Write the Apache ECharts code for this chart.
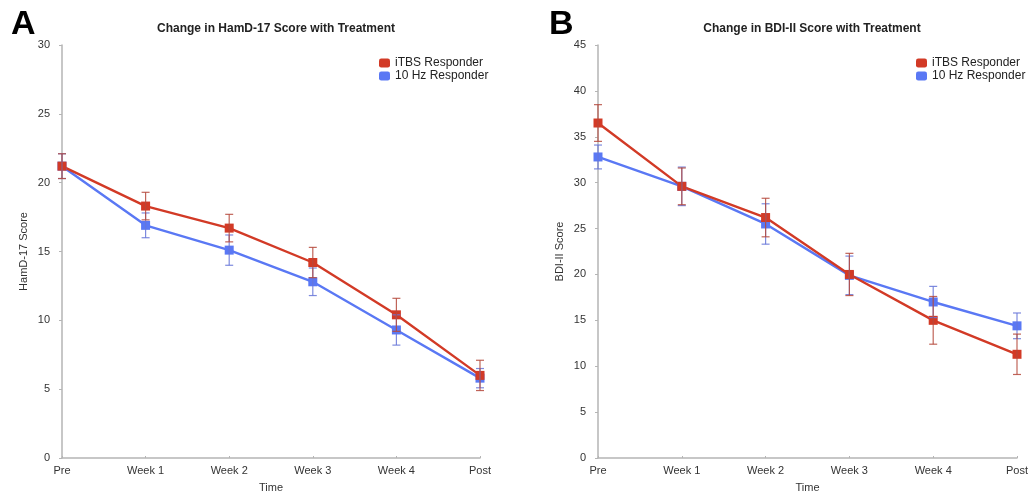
<!DOCTYPE html>
<html>
<head>
<meta charset="utf-8">
<script src="https://cdn.jsdelivr.net/npm/echarts@6/dist/echarts.min.js"></script>
<style>
  html, body { margin: 0; padding: 0; background: #fff; }
  #main { width: 1029px; height: 492px; }
</style>
</head>
<body>
<div id="main"></div>
<script>
// time points
let times = ['Pre', 'Week 1', 'Week 2', 'Week 3', 'Week 4', 'Post'];

// panel A - HamD-17 (mean, sem)
let hamdItbs = [21.2, 18.3, 16.7, 14.2, 10.4, 6.0];
let hamdItbsErr = [0.9, 1.0, 1.0, 1.1, 1.2, 1.1];
let hamd10hz = [21.2, 16.9, 15.1, 12.8, 9.3, 5.8];
let hamd10hzErr = [0.9, 0.9, 1.1, 1.0, 1.1, 0.7];

// panel B - BDI-II
let bdiItbs = [36.5, 29.6, 26.2, 20.0, 15.0, 11.3];
let bdiItbsErr = [2.0, 2.0, 2.1, 2.3, 2.6, 2.2];
let bdi10hz = [32.8, 29.6, 25.5, 19.9, 17.0, 14.4];
let bdi10hzErr = [1.3, 2.1, 2.2, 2.1, 1.7, 1.4];

let red = '#d23a26';
let blue = '#5a78f4';
let redErr = '#b5493c';
let blueErr = '#6676d8';
let font = '"Liberation Sans", Arial, sans-serif';

let chart = echarts.init(document.getElementById('main'));

function errData(mean, err) {
  return mean.map(function (m, i) { return [i, m - err[i], m + err[i]]; });
}

function errSeries(name, idx, mean, err, color) {
  return {
    type: 'custom',
    name: name,
    xAxisIndex: idx,
    yAxisIndex: idx,
    z: 5,
    silent: true,
    renderItem: function (params, api) {
      let x = api.value(0);
      let lo = api.coord([x, api.value(1)]);
      let hi = api.coord([x, api.value(2)]);
      let cap = 4;
      let st = { stroke: color, lineWidth: 1.2, opacity: 0.85 };
      return {
        type: 'group',
        children: [
          { type: 'line', shape: { x1: hi[0], y1: hi[1], x2: lo[0], y2: lo[1] }, style: st },
          { type: 'line', shape: { x1: hi[0] - cap, y1: hi[1], x2: hi[0] + cap, y2: hi[1] }, style: st },
          { type: 'line', shape: { x1: lo[0] - cap, y1: lo[1], x2: lo[0] + cap, y2: lo[1] }, style: st }
        ]
      };
    },
    data: errData(mean, err)
  };
}

function lineSeries(name, idx, data, color) {
  return {
    type: 'line',
    name: name,
    xAxisIndex: idx,
    yAxisIndex: idx,
    data: data,
    symbol: 'rect',
    symbolSize: 9,
    z: 3,
    color: color,
    lineStyle: { width: 2.4, color: color },
    itemStyle: { color: color }
  };
}

function xAx(idx) {
  return {
    type: 'category',
    gridIndex: idx,
    data: times,
    boundaryGap: false,
    name: 'Time',
    nameLocation: 'middle',
    nameGap: 24,
    nameTextStyle: { fontFamily: font, fontSize: 11, color: '#333' },
    axisLine: { lineStyle: { color: '#b5b5b5', width: 1.5 } },
    axisTick: { alignWithLabel: true, length: 2, inside: true, lineStyle: { color: '#b5b5b5' } },
    axisLabel: { fontFamily: font, fontSize: 11, color: '#333', margin: 7 },
    splitLine: { show: false }
  };
}

function yAx(idx, max, name) {
  return {
    type: 'value',
    gridIndex: idx,
    min: 0,
    max: max,
    interval: 5,
    name: name,
    nameLocation: 'middle',
    nameGap: 33,
    nameTextStyle: { fontFamily: font, fontSize: 11, color: '#333' },
    axisLine: { show: true, lineStyle: { color: '#b5b5b5', width: 1.5 } },
    axisTick: { show: true, length: 3, lineStyle: { color: '#b5b5b5' } },
    axisLabel: { fontFamily: font, fontSize: 11, color: '#333', margin: 12 },
    splitLine: { show: false }
  };
}

let titleStyle = { fontFamily: font, fontSize: 12, fontWeight: 'bold', color: '#222' };
let letterStyle = { fontFamily: font, fontSize: 34, fontWeight: 'bold', color: '#000' };

let option = {
  backgroundColor: '#fff',
  animation: false,
  title: [
    { text: 'A', left: 6, top: 3, textStyle: letterStyle },
    { text: 'B', left: 544, top: 3, textStyle: letterStyle },
    { text: 'Change in HamD-17 Score with Treatment', left: 271, top: 18, textAlign: 'center', textStyle: titleStyle },
    { text: 'Change in BDI-II Score with Treatment', left: 807, top: 18, textAlign: 'center', textStyle: titleStyle }
  ],
  legend: [
    {
      data: ['iTBS Responder', '10 Hz Responder'],
      orient: 'vertical',
      left: 374,
      top: 52,
      itemGap: 1,
      itemWidth: 11,
      itemHeight: 9,
      icon: 'roundRect',
      textStyle: { fontFamily: font, fontSize: 12, color: '#222' }
    },
    {
      data: ['iTBS Responder ', '10 Hz Responder '],
      orient: 'vertical',
      left: 911,
      top: 52,
      itemGap: 1,
      itemWidth: 11,
      itemHeight: 9,
      icon: 'roundRect',
      formatter: function (n) { return n.trim(); },
      textStyle: { fontFamily: font, fontSize: 12, color: '#222' }
    }
  ],
  grid: [
    { left: 62, right: 549, top: 45, bottom: 34, outerBoundsMode: 'none' },
    { left: 598, right: 12, top: 45, bottom: 34, outerBoundsMode: 'none' }
  ],
  xAxis: [xAx(0), xAx(1)],
  yAxis: [yAx(0, 30, 'HamD-17 Score'), yAx(1, 45, 'BDI-II Score')],
  series: [
    lineSeries('10 Hz Responder', 0, hamd10hz, blue),
    lineSeries('iTBS Responder', 0, hamdItbs, red),
    errSeries('e1', 0, hamd10hz, hamd10hzErr, blueErr),
    errSeries('e2', 0, hamdItbs, hamdItbsErr, redErr),
    lineSeries('10 Hz Responder ', 1, bdi10hz, blue),
    lineSeries('iTBS Responder ', 1, bdiItbs, red),
    errSeries('e3', 1, bdi10hz, bdi10hzErr, blueErr),
    errSeries('e4', 1, bdiItbs, bdiItbsErr, redErr)
  ]
};

chart.setOption(option);
</script>
</body>
</html>
